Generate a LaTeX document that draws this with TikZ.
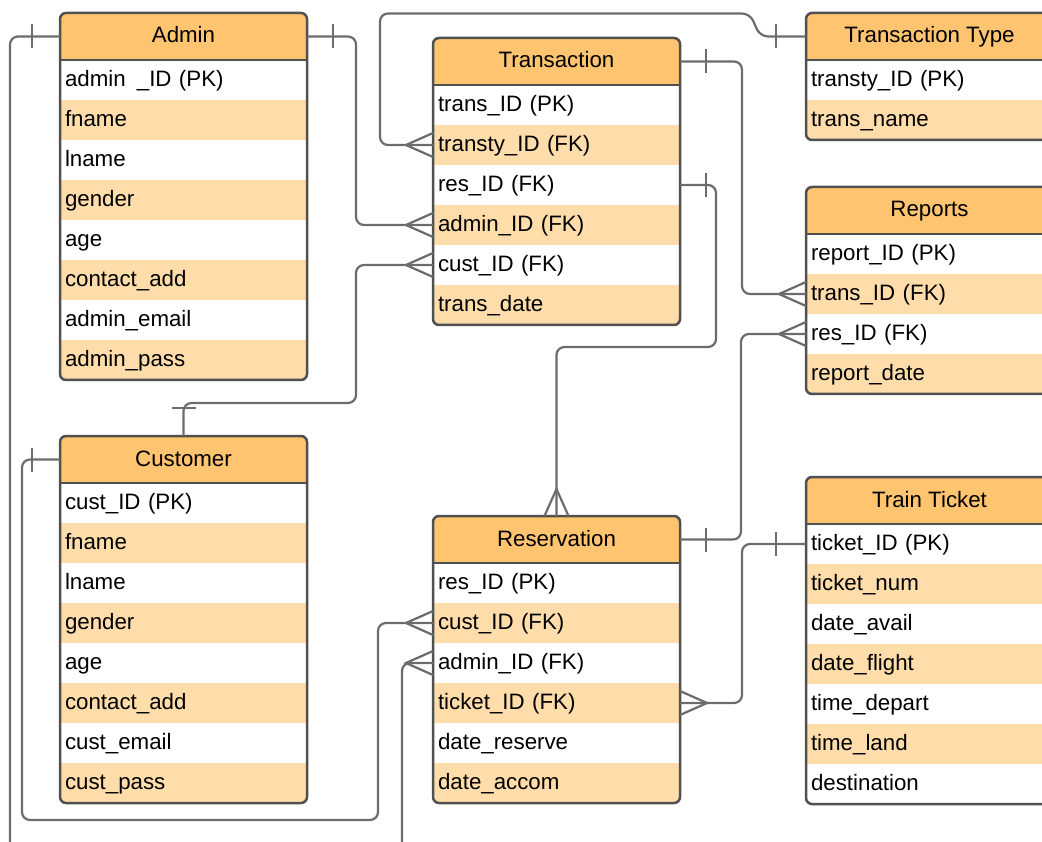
\documentclass[tikz,border=0pt]{standalone}
\usepackage{fontspec}
\setmainfont{Liberation Sans}
\usetikzlibrary{calc}
\definecolor{hdrc}{RGB}{255,196,112}
\definecolor{rowc}{RGB}{255,221,170}
\definecolor{brd}{RGB}{80,80,80}
\definecolor{connc}{RGB}{108,108,108}
\tikzset{
  hdr/.style={minimum width=247pt, minimum height=47pt, inner sep=0pt, outer sep=0pt, fill=hdrc, text height=18pt, text depth=5pt, font=\fontsize{22.3}{26}\selectfont},
  rowbox/.style={minimum width=247pt, minimum height=40pt, text width=237pt, inner xsep=5pt, inner ysep=0pt, outer sep=0pt, align=left, text height=18.5pt, text depth=5pt, font=\fontsize{22.3}{26}\selectfont},
  border/.style={draw=brd, line width=2.5pt},
  conn/.style={draw=connc, line width=2.2pt, rounded corners=8pt},
  pics/crowE/.style={code={\draw[connc, line width=2.2pt, sharp corners] (0,-12) -- (-27,0) -- (0,12);}},
  pics/crowW/.style={code={\draw[connc, line width=2.2pt, sharp corners] (0,-12) -- (27,0) -- (0,12);}},
  pics/crowS/.style={code={\draw[connc, line width=2.2pt, sharp corners] (-12,0) -- (0,-27) -- (12,0);}},
  pics/tickH/.style={code={\draw[connc, line width=2.2pt] (0,-12) -- (0,12);}},
  pics/tickV/.style={code={\draw[connc, line width=2.2pt] (-12,0) -- (12,0);}},
}
\newcommand{\mkentity}[6]{%
  \begin{scope}
    \clip[rounded corners=6pt] (#2,#3) rectangle ++(247,{47+40*#5});
    \node[hdr, anchor=north west] (#1) at (#2,#3) {#4};
    \foreach \rowtext [count=\i] in {#6} {
      \pgfmathsetmacro\yy{#3+47+40*(\i-1)}
      \ifodd\i \def\rc{white}\else\def\rc{rowc}\fi
      \node[rowbox, fill=\rc, anchor=north west] (#1-\i) at (#2,\yy) {\rowtext};
    }
  \end{scope}
  \draw[border, rounded corners=6pt] (#2,#3) rectangle ++(247,{47+40*#5});
  \draw[border] (#2,{#3+47}) -- ++(247,0);
}
\begin{document}
\begin{tikzpicture}[x=1pt,y=-1pt]
\useasboundingbox (0,0) rectangle (1042,842);
\clip (0,0) rectangle (1042,842);

\mkentity{Adm}{60}{13}{Admin}{8}{admin\hspace{0.5em}\_ID (PK), fname, lname, gender, age, contact\_add, admin\_email, admin\_pass}
\mkentity{Tr}{433}{38}{Transaction}{6}{trans\_ID (PK), transty\_ID (FK), res\_ID (FK), admin\_ID (FK), cust\_ID (FK), trans\_date}
\mkentity{TT}{806}{13}{Transaction Type}{2}{transty\_ID (PK), trans\_name}
\mkentity{Rep}{806}{187}{Reports}{4}{report\_ID (PK), trans\_ID (FK), res\_ID (FK), report\_date}
\mkentity{Cus}{60}{436}{Customer}{8}{cust\_ID (PK), fname, lname, gender, age, contact\_add, cust\_email, cust\_pass}
\mkentity{Res}{433}{516}{Reservation}{6}{res\_ID (PK), cust\_ID (FK), admin\_ID (FK), ticket\_ID (FK), date\_reserve, date\_accom}
\mkentity{TrT}{806}{477}{Train Ticket}{7}{ticket\_ID (PK), ticket\_num, date\_avail, date\_flight, time\_depart, time\_land, destination}

% Admin -> Reservation admin_ID (via bottom)
\draw[conn] (Adm.west) -| (10,870) -- (402,870) |- (Res-3.west);
\pic at ($(Adm.west)+(-28,0)$) {tickH};
\pic at (Res-3.west) {crowE};

% Admin -> Transaction admin_ID
\draw[conn] (Adm.east) -| ($(Tr-4.west)+(-77,0)$) -- (Tr-4.west);
\pic at ($(Adm.east)+(26,0)$) {tickH};
\pic at (Tr-4.west) {crowE};

% Transaction Type -> Transaction transty_ID
\draw[conn] (TT.west) -- ++(-46,0) -- ++(-10,-23) -| ($(Tr-2.west)+(-53,0)$) -- (Tr-2.west);
\pic at ($(TT.west)+(-30,0)$) {tickH};
\pic at (Tr-2.west) {crowE};

% Transaction -> Reports trans_ID
\draw[conn] (Tr.east) -| ($(Rep-2.west)+(-64,0)$) -- (Rep-2.west);
\pic at ($(Tr.east)+(26,0)$) {tickH};
\pic at (Rep-2.west) {crowE};

% Transaction res_ID -> Reservation
\draw[conn] (Tr-3.east) -| (716,347) -| (Res.north);
\pic at ($(Tr-3.east)+(26,0)$) {tickH};
\pic at (Res.north) {crowS};

% Customer -> Transaction cust_ID
\draw[conn] (Cus.north) |- (356,403) |- (Tr-5.west);
\pic at ($(Cus.north)+(0,-28)$) {tickV};
\pic at (Tr-5.west) {crowE};

% Reservation -> Reports res_ID
\draw[conn] (Rep-3.west) -| ($(Res.east)+(61,0)$) -- (Res.east);
\pic at ($(Res.east)+(26,0)$) {tickH};
\pic at (Rep-3.west) {crowE};

% Train Ticket -> Reservation ticket_ID
\draw[conn] (TrT-1.west) -| ($(Res-4.east)+(62,0)$) -- (Res-4.east);
\pic at ($(TrT-1.west)+(-30,0)$) {tickH};
\pic at (Res-4.east) {crowW};

% Customer -> Reservation cust_ID
\draw[conn] (Cus.west) -| (22,820) -| ($(Res-2.west)+(-55,0)$) -- (Res-2.west);
\pic at ($(Cus.west)+(-28,0)$) {tickH};
\pic at (Res-2.west) {crowE};
\end{tikzpicture}
\end{document}
